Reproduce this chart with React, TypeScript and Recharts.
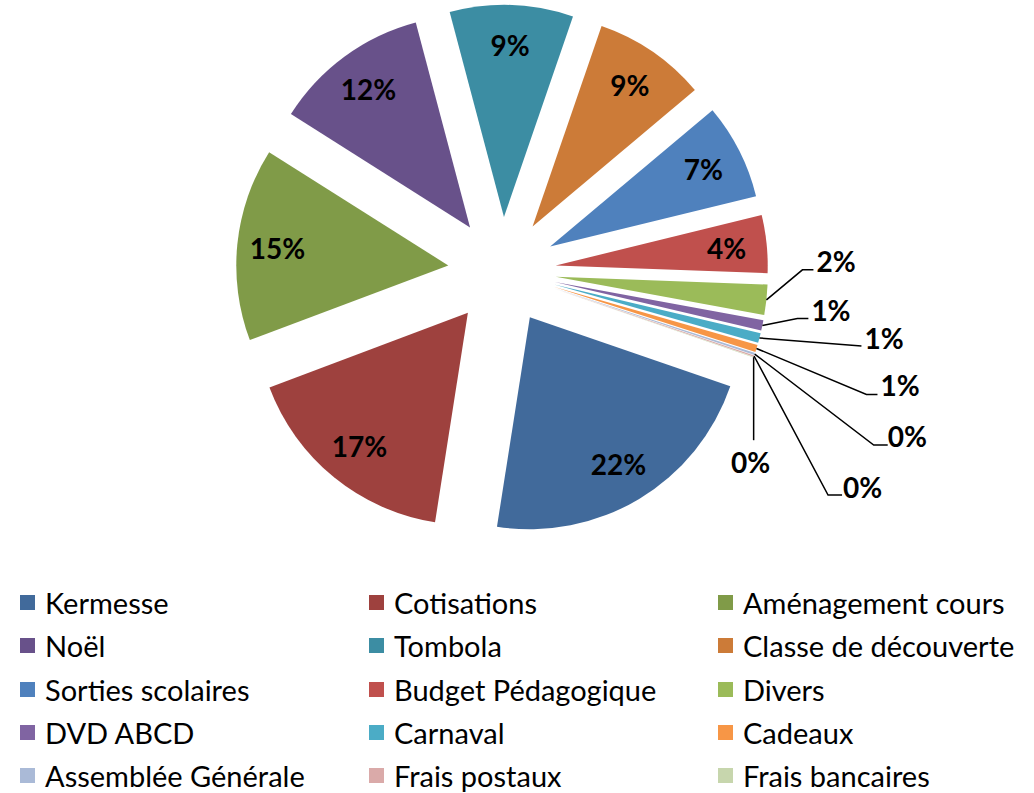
import React from 'react';
import { PieChart, Pie, Cell, Sector, Legend } from 'recharts';

// slices, in drawing order (clockwise from the lower right)
const categories = [
  'Kermesse',
  'Cotisations',
  'Aménagement cours',
  'Noël',
  'Tombola',
  'Classe de découverte',
  'Sorties scolaires',
  'Budget Pédagogique',
  'Divers',
  'DVD ABCD',
  'Carnaval',
  'Cadeaux',
  'Assemblée Générale',
  'Frais postaux',
  'Frais bancaires',
];

// share of each slice, in %
const shares = [22.2, 16.8, 14.7, 11.9, 9.4, 8.6, 7.3, 4.4, 2.3, 0.8, 0.75, 0.55, 0.15, 0.1, 0.05];

const colors = [
  '#416A9B', '#9E413E', '#809B48', '#68518A', '#3C8DA3',
  '#CC7B38', '#4F81BD', '#C0504D', '#9BBB59', '#8064A2',
  '#4BACC6', '#F79646', '#AABAD7', '#DAAAA9', '#C7D6AD',
];

const data = categories.map((name, i) => ({ name, value: shares[i], fill: colors[i] }));

const RAD = Math.PI / 180;
const EXPLODE = 54;
const FONT = 'Lato, "Open Sans", sans-serif';

// leader lines for the small slices, relative to the slice's outer edge:
// [elbowDx, elbowDy, endDx, endDy, textDx, textDy, anchor]
const leaders: [number, number, number, number, number, number, string][] = [
  [36, -30, 47, -30, 50, -39, 'start'],
  [35, -7, 46, -7, 49, -15, 'start'],
  [102, 8, 102, 8, 105, 0, 'start'],
  [110, 46, 121, 46, 124, 37, 'start'],
  [119, 91, 133, 91, 133, 82, 'start'],
  [74, 139, 88, 139, 89, 131, 'start'],
  [0, 83, 0, 83, -3, 105, 'middle'],
];

const ExplodedSector = (props: any) => {
  const { cx, cy, midAngle } = props;
  const dx = EXPLODE * Math.cos(-midAngle * RAD);
  const dy = EXPLODE * Math.sin(-midAngle * RAD);
  return <Sector {...props} cx={cx + dx} cy={cy + dy} stroke="none" />;
};

const renderLabel = (props: any) => {
  const { cx, cy, midAngle, outerRadius, percent, index } = props;
  const cos = Math.cos(-midAngle * RAD);
  const sin = Math.sin(-midAngle * RAD);
  const text = `${Math.round(percent * 100)}%`;
  const style = { fontFamily: FONT, fontWeight: 700, fontSize: 28, fill: '#000' };
  const lead = leaders[index - 8];
  if (!lead) {
    const r = EXPLODE + outerRadius * 0.81;
    return (
      <text x={cx + r * cos} y={cy + r * sin} textAnchor="middle" dominantBaseline="central" style={style}>
        {text}
      </text>
    );
  }
  const ax = cx + (EXPLODE + outerRadius) * cos;
  const ay = cy + (EXPLODE + outerRadius) * sin;
  const [ex, ey, lx, ly, tx, ty, anchor] = lead;
  return (
    <g>
      <polyline
        points={`${ax},${ay} ${ax + ex},${ay + ey} ${ax + lx},${ay + ly}`}
        fill="none"
        stroke="#000"
        strokeWidth={1.5}
      />
      <text x={ax + tx} y={ay + ty} textAnchor={anchor as any} dominantBaseline="central" style={style}>
        {text}
      </text>
    </g>
  );
};

const renderLegend = () => (
  <div
    style={{
      display: 'grid',
      gridTemplateColumns: '349px 349px 336px',
      gridAutoRows: '43.3px',
      paddingLeft: 20,
      fontFamily: FONT,
      fontSize: 29,
      color: '#000',
    }}
  >
    {categories.map((name, i) => (
      <div key={name} style={{ display: 'flex', alignItems: 'center', whiteSpace: 'nowrap' }}>
        <span style={{ width: 15, height: 15, background: colors[i], marginRight: 10, flex: 'none' }} />
        <span>{name}</span>
      </div>
    ))}
  </div>
);

export default function App() {
  return (
    <div style={{ position: 'absolute', left: 0, top: 0, width: 1034, height: 793, background: '#fff' }}>
      <PieChart width={1034} height={793} margin={{ top: 0, right: 0, bottom: 0, left: 0 }}>
        <Pie
          data={data}
          dataKey="value"
          nameKey="name"
          cx={502}
          cy={271}
          outerRadius={212}
          startAngle={-19}
          endAngle={-379}
          stroke="none"
          shape={ExplodedSector}
          label={renderLabel}
          labelLine={false}
          isAnimationActive={false}
        >
          {data.map((d) => (
            <Cell key={d.name} fill={d.fill} />
          ))}
        </Pie>
        <Legend
          verticalAlign="bottom"
          content={renderLegend}
          wrapperStyle={{ position: 'absolute', top: 581, left: 0, width: 1034 }}
        />
      </PieChart>
    </div>
  );
}
